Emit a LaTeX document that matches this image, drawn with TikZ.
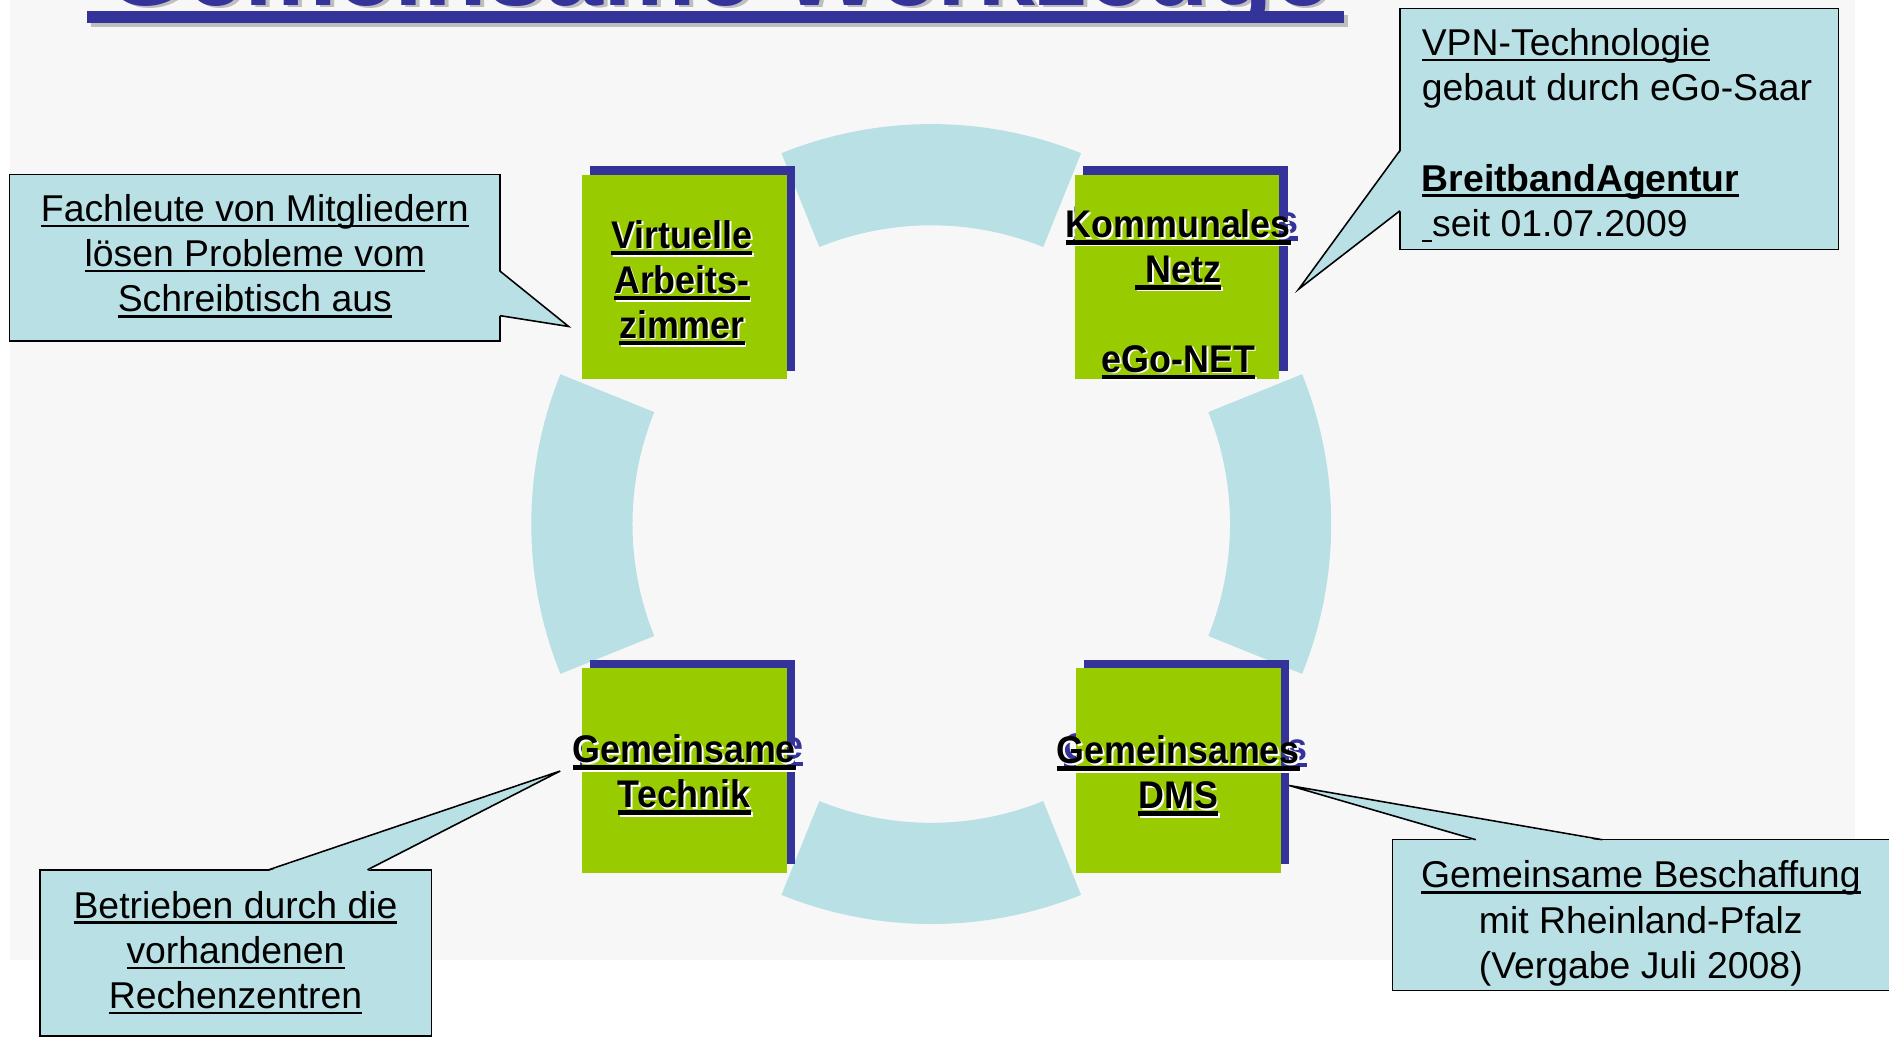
\documentclass[tikz,border=0pt]{standalone}
\usepackage{fontspec}
\setmainfont{Liberation Sans}
\newfontfamily\boxfont[FakeStretch=0.93]{Liberation Sans}
\usetikzlibrary{calc,shadows}
\definecolor{bgc}{HTML}{F7F7F7}
\definecolor{ringc}{HTML}{B9E0E4}
\definecolor{greenc}{HTML}{99CC00}
\definecolor{shblue}{HTML}{333399}
\definecolor{shgray}{HTML}{BEBEBE}
\newcommand\ulx[1]{\setbox0\hbox{#1}\rlap{\rule[-0.16em]{\wd0}{0.07em}}\box0}
\newcommand\ulb[1]{\setbox0\hbox{#1}\rlap{\rule[-0.19em]{\wd0}{0.12em}}\box0}
\newcommand\boxlabels[2]{%
\node[boxtxt,#1] (#2v) at (566,182.6) {\ulb{Virtuelle}\\\ulb{Arbeits-}\\\ulb{zimmer}};
\node[boxtxt,#1] (#2k) at (978,173.6) {\ulb{Kommunales}\\\ulb{\ Netz}\\[37.3pt]\ulb{eGo-NET}};
\node[boxtxt,#1] (#2g) at (568,609.6) {\ulb{Gemeinsame}\\\ulb{Technik}};
\node[boxtxt,#1] (#2d) at (978,610.6) {\ulb{Gemeinsames}\\\ulb{DMS}};}
\begin{document}
\begin{tikzpicture}[x=1pt,y=-1pt,
 greenbox/.style={fill=greenc, minimum width=170pt, minimum height=170pt, inner sep=0pt,
   drop shadow={shadow xshift=7pt, shadow yshift=7pt, fill=shblue, opacity=1}},
 cbox/.style={fill=ringc, draw=black, line width=1.3pt, inner sep=0pt},
 cline/.style={draw=black, line width=1.3pt, line join=miter},
 ctext/.style={font=\fontsize{31}{37.5}\selectfont, inner sep=0pt, align=center},
 boxtxt/.style={font=\boxfont\bfseries\fontsize{32}{37.3}\selectfont, inner sep=0pt, align=center, anchor=north},
 ghostlbl/.style={text=shblue, xshift=6pt, yshift=3pt},
 whitelbl/.style={text=white, xshift=1.5pt, yshift=-1.5pt},
 titlefont/.style={font=\bfseries\fontsize{86.5}{90}\selectfont, inner sep=0pt, anchor=base west}]
\useasboundingbox (0,0) rectangle (1568,861);
\clip (0,0) rectangle (1568,861);
\fill[white] (0,0) rectangle (1568,861);
\fill[bgc] (8,0) rectangle (1540,797);
% title
\begin{scope}
\clip (0,0) rectangle (1568,12);
\node[titlefont, text=shgray] (tsh) at (90.3,6.5) {Gemeinsame Werkzeuge};
\node[titlefont, text=shblue] (title) at (87,4.7) {Gemeinsame Werkzeuge};
\end{scope}
\fill[shgray] (75.3,12.4) rectangle (1118.8,22.1);
\fill[shblue] (72,9.1) rectangle (1115.5,18.8);
% ring
\coordinate (rc) at (773,435);
\foreach \a in {0,90,180,270} {
  \fill[ringc] ($(rc)+(\a-22:332)$) arc[start angle=\a-22,end angle=\a+22,radius=332]
    -- ($(rc)+(\a+22:248)$) arc[start angle=\a+22,end angle=\a-22,radius=248] -- cycle;}
% ghost labels
\boxlabels{ghostlbl}{gh}
% boxes
\node[greenbox] (g1) at (568,230) {};
\node[greenbox] (g2) at (977,230) {};
\node[greenbox] (g3) at (568,639.5) {};
\node[greenbox] (g4) at (978,639.5) {};
\boxlabels{whitelbl}{wh}
\boxlabels{}{lb}
% callout 1
\node[cbox, minimum width=407pt, minimum height=138pt] (c1) at (211.5,214) {};
\coordinate (p1) at (472,271);
\fill[ringc] (414,225) -- (p1) -- (414,262) -- cycle;
\draw[cline] (415,225) -- (p1) -- (415,262);
\node[ctext, anchor=north] (c1t) at (211.5,161) {\ulx{Fachleute von Mitgliedern}\\\ulx{lösen Probleme vom}\\\ulx{Schreibtisch aus}};
% callout 2
\node[cbox, minimum width=364pt, minimum height=200pt] (c2) at (1344,107) {};
\coordinate (p2) at (1078,240);
\fill[ringc] (1163,125) -- (p2) -- (1163,175) -- cycle;
\draw[cline] (1162,125) -- (p2) -- (1162,175);
\node[ctext, align=left, anchor=north west] (c2t) at (1180,23.4) {\ulx{VPN-Technologie}\\gebaut durch eGo-Saar\\[37.5pt]\textbf{\ulx{BreitbandAgentur}}\\\ulx{\ }seit 01.07.2009};
% callout 3
\node[cbox, minimum width=325pt, minimum height=138pt] (c3) at (195.5,791) {};
\coordinate (p3) at (465,640);
\fill[ringc] (223,723) -- (p3) -- (305,723) -- cycle;
\draw[cline] (223,722) -- (p3) -- (305,722);
\node[ctext, anchor=north] (c3t) at (195.5,739.4) {\ulx{Betrieben durch die}\\\ulx{vorhandenen}\\\ulx{Rechenzentren}};
% callout 4
\node[cbox, minimum width=416pt, minimum height=125pt] (c4) at (1364,759.5) {};
\coordinate (p4) at (1070,652);
\fill[ringc] (1225,698) -- (p4) -- (1330,698) -- cycle;
\draw[cline] (1225,697) -- (p4) -- (1330,697);
\node[ctext, anchor=north] (c4t) at (1362,714.4) {\ulx{Gemeinsame Beschaffung}\\mit Rheinland-Pfalz\\(Vergabe Juli 2008)};
\end{tikzpicture}
\end{document}
